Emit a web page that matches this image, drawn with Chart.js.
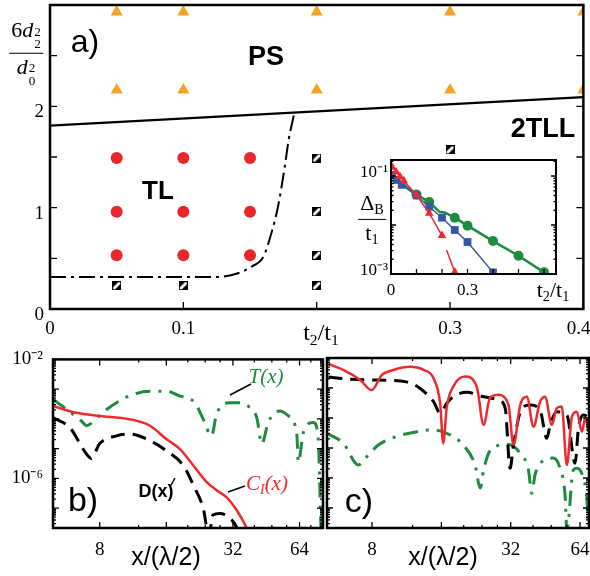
<!DOCTYPE html>
<html>
<head>
<meta charset="utf-8">
<script src="https://cdn.jsdelivr.net/npm/chart.js@4.4.0/dist/chart.umd.min.js"></script>
<style>
body { margin: 0; width: 590px; height: 576px; overflow: hidden; position: relative; background: #fff; font-family: "Liberation Serif", serif; }
canvas { position: absolute; }
.t { position: absolute; white-space: nowrap; line-height: 1; transform: translate(-50%, -50%); }
.sans { font-family: "Liberation Sans", Arial, sans-serif; }
.b { font-weight: bold; }
.frac { display: inline-flex; flex-direction: column; align-items: center; }
.frac .num { border-bottom: 1.5px solid #000; padding: 0 2px 2px; }
.frac .den { padding-top: 2px; }
.ss { display: inline-flex; flex-direction: column; font-size: 0.6em; line-height: 0.95; vertical-align: 0.1em; margin-left: 1px; }
sub { font-size: 0.65em; vertical-align: -0.3em; }
</style>
</head>
<body>
<canvas id="cA"></canvas>
<canvas id="cIn"></canvas>
<canvas id="cB"></canvas>
<canvas id="cC"></canvas>

<!-- panel a texts -->
<div class="t sans" style="left:85px;top:41px;font-size:32px">a)</div>
<div class="t sans b" style="left:266px;top:56px;font-size:27px">PS</div>
<div class="t sans b" style="left:158px;top:190px;font-size:26px">TL</div>
<div class="t sans b" style="left:543px;top:128px;font-size:27px">2TLL</div>
<div class="t" style="left:26px;top:53px;font-size:22px">
  <div class="frac"><span class="num">6<i>d</i><span class="ss"><span>2</span><span>2</span></span></span><span class="den"><i>d</i><span class="ss"><span>2</span><span>0</span></span></span></div>
</div>
<div class="t" style="left:321px;top:334px;font-size:24px">t<sub>2</sub>/t<sub>1</sub></div>

<!-- inset texts -->
<div class="t" style="left:372px;top:219px;font-size:22px">
  <div class="frac"><span class="num">Δ<sub>B</sub></span><span class="den">t<sub>1</sub></span></div>
</div>
<div class="t" style="left:553px;top:291px;font-size:22px">t<sub>2</sub>/t<sub>1</sub></div>

<!-- panel b / c texts -->
<div class="t sans" style="left:83px;top:499px;font-size:34px">b)</div>
<div class="t sans b" style="left:156px;top:491px;font-size:18px">D(x)</div>
<div class="t" style="left:267px;top:485px;font-size:21px;color:#ee2a2e"><i>C<sub>I</sub>(x)</i></div>
<div class="t" style="left:266px;top:376px;font-size:21px;color:#1e8c3e"><i>T(x)</i></div>
<div class="t sans" style="left:359px;top:500px;font-size:34px">c)</div>
<div class="t sans" style="left:166px;top:556px;font-size:25px">x/(λ/2)</div>
<div class="t sans" style="left:443px;top:556px;font-size:25px">x/(λ/2)</div>

<svg style="position:absolute;left:0;top:0" width="590" height="576">
  <g stroke="#000" stroke-width="1.5">
    <line x1="170" y1="487" x2="175" y2="478"/>
    <line x1="228" y1="492" x2="245" y2="486"/>
    <line x1="230" y1="395" x2="251" y2="384"/>
  </g>
</svg>

<script>
// ---- panel a: phase diagram ----
const boundX = [0, 0.4];
const boundY = [1.81, 2.09];
const crossX = [0, 0.05, 0.1, 0.124, 0.141, 0.151, 0.160, 0.166, 0.171, 0.176, 0.179, 0.183];
const crossY = [0.316, 0.316, 0.316, 0.316, 0.353, 0.417, 0.516, 0.747, 1.01, 1.40, 1.67, 1.92];
const tlX = [0.05, 0.05, 0.05, 0.10, 0.10, 0.10, 0.15, 0.15, 0.15];
const tlY = [1.49, 0.96, 0.53, 1.49, 0.96, 0.53, 1.49, 0.96, 0.53];
const psX = [0.05, 0.1, 0.2, 0.3, 0.4, 0.05, 0.1, 0.2, 0.3, 0.4];
const psY = [2.93, 2.93, 2.93, 2.93, 2.93, 2.16, 2.16, 2.16, 2.16, 2.16];
const sqX = [0.05, 0.1, 0.2, 0.2, 0.2, 0.2, 0.3];
const sqY = [0.23, 0.23, 1.49, 0.96, 0.53, 0.23, 1.57];
const aTickLabelsX = [0, 0.1, 0.3, 0.4];
const aTickLabelsY = [0, 1, 2];

// ---- inset: gap vs t2/t1 ----
const gX = [0, 0.05, 0.1, 0.15, 0.19, 0.21, 0.25, 0.3, 0.4, 0.5, 0.6];
const gY = [0.11, 0.066, 0.042, 0.0295, 0.0186, 0.018, 0.0141, 0.0097, 0.0047, 0.00236, 0.00108];
const gR = [0, 0, 5, 5, 0, 0, 5, 5, 5, 5, 5];
const bX = [0.003, 0.022, 0.042, 0.1, 0.15, 0.2, 0.25, 0.3, 0.4];
const bY = [0.105, 0.083, 0.066, 0.040, 0.0235, 0.0141, 0.0079, 0.0045, 0.00108];
const rX = [0.005, 0.02, 0.035, 0.05, 0.1, 0.15, 0.2, 0.21, 0.218, 0.25];
const rY = [0.15, 0.12, 0.098, 0.08, 0.041, 0.0174, 0.0061, null, 0.0031, 0.0011];
const rR = [5, 5, 5, 5, 5, 5, 5, 0, 0, 5];
const inTickLabelsX = [0, 0.3];
const inTickLabelsY = [0.001, 0.1];

// ---- panel b ----
const bCx = [4.92, 6.27, 8, 10.9, 13.5, 16, 18.4, 21.2, 24.3, 27.0, 30.0, 33.3, 36.9, 38.5];
const bCy = [2.7e-4, 1.6e-4, 1.26e-4, 9.8e-5, 5.9e-5, 2.1e-5, 9.8e-6, 2.7e-6, 7.6e-7, 4.0e-7, 2.3e-7, 8.5e-8, 2.1e-8, 8e-9];
const bDx = [4.92, 5.86, 6.97, 7.32, 8, 9.52, 10.9, 13.5, 16, 19.1, 21.2, 23.5, 24.9, 26.0, 27.9, 31.0, 33.4, 35.1];
const bDy = [1.1e-4, 5.1e-5, 6.6e-6, 4.7e-6, 1.48e-5, 2.7e-5, 3.1e-5, 1.86e-5, 8.5e-6, 2.7e-6, 5.9e-7, 9.8e-8, 1.26e-8, 5.9e-8, 6.6e-8, 4.6e-8, 2.1e-8, 5.9e-9];
const bTx = [4.92, 6.61, 6.98, 7.21, 8.43, 10.9, 13.5, 16, 18.1, 21.5, 23.5, 25.6, 27.0, 31.0, 33.8, 37.5, 41.0, 43.2, 46.2, 52.2, 57.0, 62.2, 63.2, 66.6, 73.9, 77.6, 80];
const bTy = [4.6e-4, 8.5e-5, 5.9e-5, 6.6e-5, 1.86e-4, 5.9e-4, 8.5e-4, 8.5e-4, 6.2e-4, 3.5e-4, 9.8e-5, 2.7e-5, 1.45e-4, 3.5e-4, 3.5e-4, 2.7e-4, 1.1e-4, 1.45e-5, 7.6e-5, 1.86e-4, 1.26e-4, 3.1e-5, 3.5e-6, 3.5e-5, 7.6e-5, 2.7e-5, 1.9e-8];

// ---- panel c ----
const cCx = [5.17, 6.0, 7.1, 7.97, 8.81, 9.9, 11.7, 13.4, 14.8, 15.8, 16.3, 16.9, 18.0, 20.3, 22.8, 24.4, 26.0, 28.3, 31.3, 32.9, 35.2, 37.6, 40.2, 42.9, 45.1, 48.3, 50.7, 53.3, 56.1, 59.0, 62.0, 65.2, 67.4, 69.7];
const cCy = [6.3e-3, 4.0e-3, 1.86e-3, 8.5e-4, 2.7e-3, 4.0e-3, 5.1e-3, 4.0e-3, 2.1e-3, 3.1e-4, 1.45e-5, 2.4e-4, 1.1e-3, 2.4e-3, 1.1e-3, 5.9e-5, 4.6e-4, 5.9e-4, 2.7e-4, 1.26e-5, 2.7e-4, 5.1e-4, 5.1e-5, 3.5e-4, 5.1e-4, 5.9e-5, 2.1e-4, 2.4e-4, 2.7e-6, 1.1e-4, 1.6e-4, 3.5e-5, 9.8e-5, 3.5e-5];
const cDx = [5.17, 6.21, 7.84, 11.3, 12.9, 14.8, 15.8, 16.9, 18.0, 20.6, 24.4, 28.3, 30.3, 31.8, 32.9, 35.8, 38.9, 42.9, 45.9, 47.5, 50.7, 56.1, 60.9, 63.0, 66.2, 69.6];
const cDy = [2.34e-3, 2.0e-3, 1.86e-3, 1.6e-3, 9.8e-4, 3.5e-4, 1.45e-4, 3.1e-4, 5.1e-4, 7.2e-4, 5.1e-4, 4.0e-4, 2.1e-4, 2.1e-6, 1.26e-5, 2.1e-4, 2.7e-4, 1.86e-4, 2.1e-5, 5.9e-5, 1.6e-4, 1.26e-4, 3.1e-6, 4.6e-5, 1.26e-4, 1.1e-4];
const cTx = [5.09, 6.0, 6.98, 7.59, 8.52, 10.2, 12.5, 14.8, 17.5, 19.9, 22.4, 23.6, 24.4, 26.5, 31.3, 35.2, 38.2, 39.5, 40.8, 43.7, 49.0, 52.4, 55.1, 56.1, 59.9, 62.0, 66.2, 68.5, 69.6];
const cTy = [3.1e-5, 1.45e-5, 2.7e-6, 5.1e-6, 1.26e-5, 2.4e-5, 3.5e-5, 4.0e-5, 2.7e-5, 1.26e-5, 2.7e-6, 4.6e-7, 1.86e-6, 9.8e-6, 1.3e-5, 6.6e-6, 1.86e-6, 3.1e-7, 1.26e-6, 3.5e-6, 4.6e-6, 2.1e-6, 2.7e-7, 1.9e-8, 1.86e-6, 2.1e-6, 9.8e-7, 2.1e-7, 2.1e-8];
const bcTickLabelsX = [8, 32, 64];
const bcTickLabelsY = [1e-2, 1e-6];

const RED = '#ee2a2e', GREEN = '#1e8c3e', BLUE = '#3656a8', ORANGE = '#f4a422';
const tickFont = { family: 'Liberation Serif', size: 19 };
const NBSP = '\u00a0';

const pts = (xs, ys) => xs.map((x, i) => ({ x: x, y: ys[i] }));
const sup = s => s.replace(/-/g, '⁻').replace(/\d/g, d => '⁰¹²³⁴⁵⁶⁷⁸⁹'[d]);
const logLabel = v => '10' + sup(String(Math.round(Math.log10(v))));
const fixTicks = vals => s => { s.ticks = vals.map(v => ({ value: v })); };

// minor tick helpers for log axes
function logMinor(lo, hi) {
    const out = [];
    for (let e = lo; e <= hi; e++) for (let k = 2; k <= 9; k++) out.push(k * Math.pow(10, e));
    return out;
}
function decades(lo, hi) {
    const out = [];
    for (let e = lo; e <= hi; e++) out.push(Math.pow(10, e));
    return out;
}

// place canvas so that the chart area lands on the given page rectangle
function place(id, area, yw, xh) {
    const c = document.getElementById(id);
    const m = 20;
    const w = area.r - area.l + yw + 2 * m, h = area.b - area.t + xh + 2 * m;
    c.width = w; c.height = h;
    c.style.left = (area.l - yw - m) + 'px';
    c.style.top = (area.t - m) + 'px';
    c.style.width = w + 'px'; c.style.height = h + 'px';
    return c;
}

// hatched square marker
const hatch = document.createElement('canvas');
hatch.width = 9; hatch.height = 9;
(function () {
    const g = hatch.getContext('2d');
    g.fillStyle = '#000'; g.fillRect(0, 0, 9, 9);
    g.fillStyle = '#fff'; g.fillRect(1, 1, 7, 7);
    g.fillStyle = '#000';
    g.beginPath(); g.moveTo(1, 1); g.lineTo(6, 1); g.lineTo(1, 6); g.fill();
    g.beginPath(); g.moveTo(8, 8); g.lineTo(3, 8); g.lineTo(8, 3); g.fill();
})();

// frame + inward ticks
const framePlugin = {
    id: 'frame',
    beforeDraw(chart, args, o) {
        if (!o.fill) return;
        const a = chart.chartArea, ctx = chart.ctx;
        ctx.save(); ctx.fillStyle = '#fff';
        ctx.fillRect(a.left, a.top, a.right - a.left, a.bottom - a.top);
        ctx.restore();
    },
    afterDraw(chart, args, o) {
        const { ctx, chartArea: a, scales } = chart;
        ctx.save();
        ctx.strokeStyle = '#000';
        ctx.lineWidth = 1.3;
        const drawX = (vals, len, sides) => (vals || []).forEach(v => {
            const p = scales.x.getPixelForValue(v);
            if (p < a.left - 0.5 || p > a.right + 0.5) return;
            ctx.beginPath();
            if (sides.includes('bottom')) { ctx.moveTo(p, a.bottom); ctx.lineTo(p, a.bottom - len); }
            if (sides.includes('top')) { ctx.moveTo(p, a.top); ctx.lineTo(p, a.top + len); }
            ctx.stroke();
        });
        const drawY = (vals, len, sides) => (vals || []).forEach(v => {
            const p = scales.y.getPixelForValue(v);
            if (p < a.top - 0.5 || p > a.bottom + 0.5) return;
            ctx.beginPath();
            if (sides.includes('left')) { ctx.moveTo(a.left, p); ctx.lineTo(a.left + len, p); }
            if (sides.includes('right')) { ctx.moveTo(a.right, p); ctx.lineTo(a.right - len, p); }
            ctx.stroke();
        });
        drawX(o.xMajor, o.len, o.xSides);
        drawX(o.xMinor, o.len / 2, o.xSides);
        drawY(o.yMajor, o.len, o.ySides);
        drawY(o.yMinor, o.len / 2, o.ySides);
        ctx.lineWidth = o.lw;
        ctx.strokeRect(a.left, a.top, a.right - a.left, a.bottom - a.top);
        ctx.restore();
    }
};

function baseOptions(frame, scales) {
    return {
        responsive: false,
        animation: false,
        layout: { padding: 20 },
        plugins: { legend: { display: false }, tooltip: { enabled: false }, frame: frame },
        scales: scales
    };
}
function axis(type, min, max, labels, cb, size, pad, font, extra, tickExtra) {
    return Object.assign({
        type: type, min: min, max: max, bounds: 'data',
        grid: { display: false, drawTicks: false },
        border: { display: false },
        afterBuildTicks: fixTicks(labels),
        afterFit: s => { if (s.isHorizontal()) s.height = size; else s.width = size; },
        ticks: Object.assign({ callback: cb, font: font || tickFont, color: '#000', padding: pad, maxRotation: 0, autoSkip: false }, tickExtra || {})
    }, extra || {});
}

// ---- panel a ----
const cA = place('cA', { l: 50, t: 5, r: 589, b: 309 }, 50, 36);
new Chart(cA, {
    type: 'scatter',
    data: {
        datasets: [
            { data: pts(sqX, sqY), pointStyle: hatch },
            { data: pts(tlX, tlY), pointRadius: 6, pointBackgroundColor: '#e8262b', pointBorderWidth: 0 },
            { data: pts(psX, psY), pointStyle: 'triangle', pointRadius: 7, pointBackgroundColor: ORANGE, pointBorderWidth: 0 },
            { data: pts(boundX, boundY), showLine: true, borderColor: '#000', borderWidth: 2.2, pointRadius: 0 },
            { data: pts(crossX, crossY), showLine: true, borderColor: '#000', borderWidth: 2, borderDash: [16, 5, 3, 5],
              pointRadius: 0, cubicInterpolationMode: 'monotone' }
        ]
    },
    options: baseOptions(
        { lw: 2.5, len: 7, xMajor: [0, 0.1, 0.2, 0.3, 0.4], xSides: ['bottom'],
          yMajor: [0, 0.5, 1, 1.5, 2, 2.5, 3], ySides: ['left', 'right'] },
        {
            // last label padded so it stays inside the page like the reference
            x: axis('linear', 0, 0.4, aTickLabelsX, v => v === 0.4 ? '0.4' + NBSP.repeat(2) : String(v), 36, 9),
            y: axis('linear', 0, 3, aTickLabelsY, v => String(v), 50, 6, tickFont, {}, { labelOffset: 6 }),
        }),
    plugins: [framePlugin]
});

// ---- inset ----
const cIn = place('cIn', { l: 391, t: 160, r: 556, b: 274 }, 36, 24);
const inFont = { family: 'Liberation Serif', size: 17 };
new Chart(cIn, {
    type: 'scatter',
    data: {
        datasets: [
            { data: pts(rX, rY), showLine: true, borderColor: RED, borderWidth: 1.5, pointStyle: 'triangle',
              pointRadius: rR, pointBackgroundColor: RED, pointBorderWidth: 0, spanGaps: false },
            { data: pts(bX, bY), showLine: true, borderColor: BLUE, borderWidth: 1.5, pointStyle: 'rect',
              pointRadius: 5.5, pointBackgroundColor: BLUE, pointBorderWidth: 0 },
            { data: pts(gX, gY), showLine: true, borderColor: GREEN, borderWidth: 2.5,
              pointRadius: gR, pointBackgroundColor: GREEN, pointBorderWidth: 0 }
        ]
    },
    options: baseOptions(
        { fill: true, lw: 2, len: 5, xMajor: [0.1, 0.2, 0.3, 0.4, 0.5, 0.6], xSides: ['bottom'],
          yMajor: decades(-3, -1), yMinor: logMinor(-3, -1), ySides: ['left', 'right'] },
        {
            x: axis('linear', 0, 0.647, inTickLabelsX, v => String(v), 24, 6, inFont),
            y: axis('logarithmic', 0.001, 0.212, inTickLabelsY, logLabel, 36, 3, inFont, {}, { labelOffset: -3 }),
        }),
    plugins: [framePlugin]
});

// ---- panels b and c ----
function curvePanel(id, area, yw, xr, C, D, T, showY) {
    const c = place(id, area, yw, 30);
    new Chart(c, {
        type: 'scatter',
        data: {
            datasets: [
                { data: C, showLine: true, borderColor: RED, borderWidth: 2.5, pointRadius: 0, cubicInterpolationMode: 'monotone' },
                { data: D, showLine: true, borderColor: '#000', borderWidth: 3, borderDash: [14, 8], pointRadius: 0, cubicInterpolationMode: 'monotone' },
                { data: T, showLine: true, borderColor: GREEN, borderWidth: 3, borderDash: [15, 8, 3, 8], pointRadius: 0, cubicInterpolationMode: 'monotone' }
            ]
        },
        options: baseOptions(
            { lw: 2.5, len: 6, xMajor: [8, 16, 32, 64], xMinor: [4, 12, 20, 24, 28, 40, 48, 56, 72, 80], xSides: ['bottom', 'top'],
              yMajor: decades(-8, -2), yMinor: logMinor(-8, -3), ySides: ['left', 'right'] },
            {
                x: axis('logarithmic', xr[0], xr[1], bcTickLabelsX, v => String(v), 30, 11),
                y: axis('logarithmic', 2.15e-8, 1e-2, showY ? bcTickLabelsY : [], logLabel, yw, 10, tickFont, { display: showY }),
            }),
        plugins: [framePlugin]
    });
}
curvePanel('cB', { l: 53, t: 358, r: 323, b: 528 }, 53, [4.92, 81.7], pts(bCx, bCy), pts(bDx, bDy), pts(bTx, bTy), true);
curvePanel('cC', { l: 327, t: 358, r: 589, b: 528 }, 0, [5.1, 70], pts(cCx, cCy), pts(cDx, cDy), pts(cTx, cTy), false);
</script>
</body>
</html>
